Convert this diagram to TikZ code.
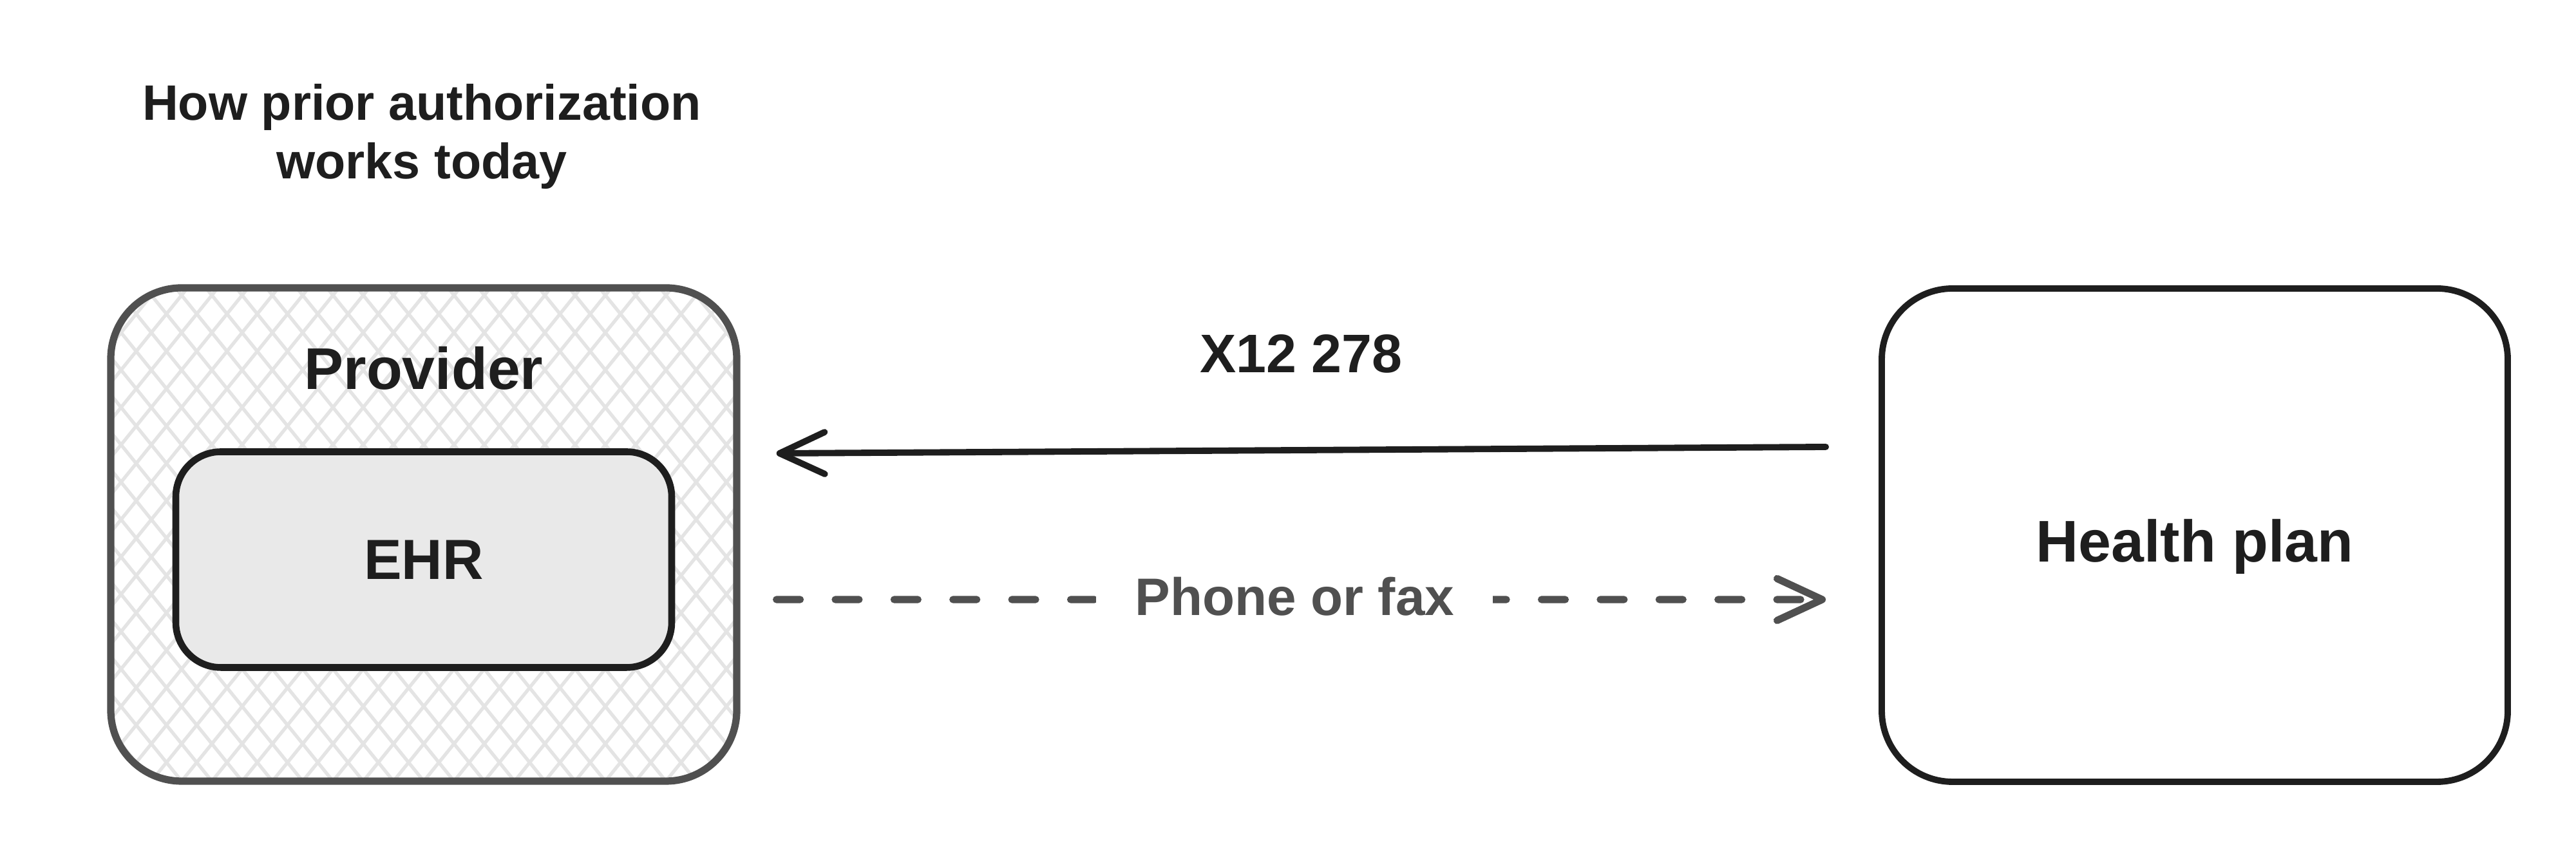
\documentclass[tikz,border=0pt]{standalone}
\usepackage{fontspec}
\setmainfont{Liberation Sans}
\usetikzlibrary{arrows.meta,positioning}
\definecolor{ink}{HTML}{1E1E1E}
\definecolor{inkgray}{HTML}{505050}
\definecolor{hatchgray}{HTML}{E4E4E4}
\definecolor{ehrfill}{HTML}{E9E9E9}
\tikzset{
  sysbox/.style={draw=ink, line width=2.8pt, rounded corners=1.1cm,
    minimum width=9.72cm, minimum height=7.66cm, font=\fontsize{26}{31}\selectfont\bfseries, text=ink},
  hatched/.style={path picture={
    \foreach \i in {-32,...,32} {
      \draw[hatchgray, line width=1.5pt] ([xshift=\i*0.47cm]path picture bounding box.south) -- ++(51:13);
      \draw[hatchgray, line width=1.5pt] ([xshift=\i*0.47cm]path picture bounding box.south) -- ++(129:13);
    }}},
  arrowlabel/.style={font=\fontsize{24}{29}\selectfont\bfseries, text=ink},
  x12arrow/.style={ink, line width=2.8pt, line cap=round,
    -{Straight Barb[length=7mm, width=6.5mm, round]}},
  phonearrow/.style={inkgray, line width=3.2pt, line cap=round, dash pattern=on 10.5pt off 15.5pt,
    -{Straight Barb[length=7mm, width=6.5mm, round]}}
}
\begin{document}
\begin{tikzpicture}
\useasboundingbox (0,0) rectangle (40,13.23);
\node[font=\fontsize{22}{26}\selectfont\bfseries, text=ink, align=center] (title) at (6.55,11.11)
  {How prior authorization\\works today};
% the two parties
\node[sysbox, draw=inkgray, line width=3.2pt, hatched] (provider) at (6.58,4.93) {};
\node[font=\fontsize{26}{31}\selectfont\bfseries, text=ink] (providerlabel) at ([yshift=-1.3cm]provider.north) {Provider};
\node[draw=ink, fill=ehrfill, line width=3pt, rounded corners=0.7cm, minimum width=7.7cm, minimum height=3.35cm,
  font=\fontsize{25}{30}\selectfont\bfseries, text=ink] (ehr) at (6.58,4.54) {EHR};
\node[sysbox] (healthplan) at (34.08,4.92) {};
\node[font=\fontsize{26}{31}\selectfont\bfseries, text=ink] (healthplanlabel) at ([yshift=-1.8mm]healthplan.center) {Health plan};
% messages
\draw[x12arrow] ([xshift=-8.2mm, yshift=13.7mm]healthplan.west) -- ([xshift=5.6mm, yshift=12.6mm]provider.east)
  node[arrowlabel, midway, yshift=1.5cm] (x12label) {X12 278};
\draw[phonearrow] ([xshift=5.6mm, yshift=-10.1mm]provider.east) -- ([xshift=-8.2mm, yshift=-10mm]healthplan.west)
  node[arrowlabel, font=\fontsize{23.3}{28}\selectfont\bfseries, text=inkgray, midway, fill=white,
    inner xsep=0.6cm, xshift=-1mm, yshift=0.5mm] (phonelabel) {Phone or fax};
\end{tikzpicture}
\end{document}
